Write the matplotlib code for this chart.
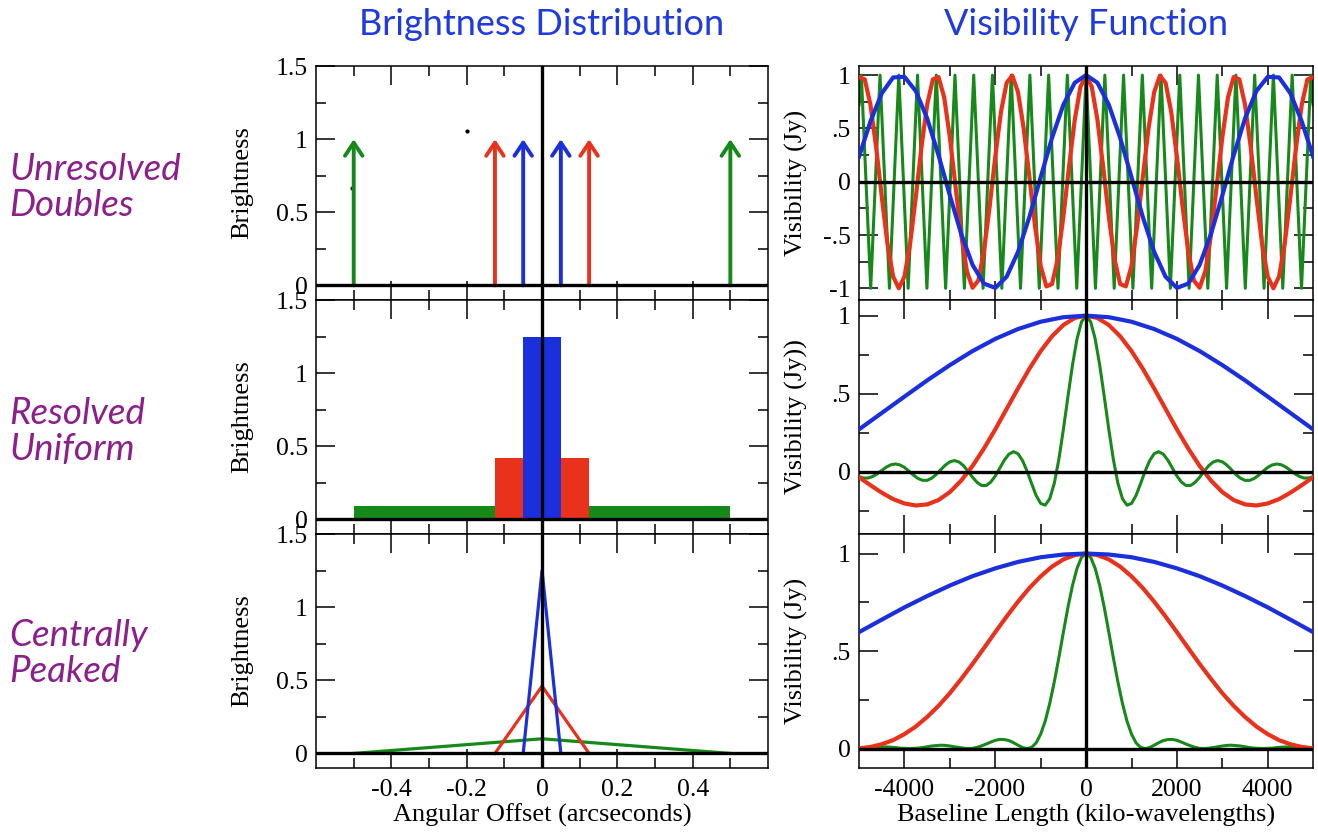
import numpy as np
import matplotlib.pyplot as plt

plt.rcParams['font.family'] = ['Liberation Serif', 'DejaVu Serif']
plt.rcParams['axes.unicode_minus'] = False

BLUE = '#1c2fdc'
RED = '#e8321c'
GREEN = '#17891b'
TITLE_BLUE = '#1f3be0'
PURPLE = '#8c1f8c'

# ---- brightness distributions (arcsec) ----
# point doubles: component offsets for blue, red, green
double_offsets = [0.05, 0.125, 0.5]
double_height = 1.0
stray_x = [-0.2, -0.505]
stray_y = [1.055, 0.665]

# uniform boxes: full width and height
box_widths = [1.0, 0.25, 0.1]        # green, red, blue
box_heights = [0.09, 0.42, 1.25]

# centrally peaked triangles: half width and peak
tri_halfwidths = [0.5, 0.125, 0.05]  # green, red, blue
tri_peaks = [0.10, 0.46, 1.25]

# ---- visibility functions (u >= 0 half, kilo-wavelengths) ----
u_half = [0, 500, 1000, 1500, 2000, 2500, 3000, 3500, 4000, 4500, 5000]
u_quarter = [0, 250, 500, 750, 1000, 1250, 1500, 1750, 2000, 2250, 2500,
             2750, 3000, 3250, 3500, 3750, 4000, 4250, 4500, 4750, 5000]
u_eighth = [0, 125, 250, 375, 500, 625, 750, 875, 1000, 1125, 1250, 1375,
            1500, 1625, 1750, 1875, 2000, 2125, 2250, 2375, 2500, 2625, 2750,
            2875, 3000, 3125, 3250, 3375, 3500, 3625, 3750, 3875, 4000, 4125,
            4250, 4375, 4500, 4625, 4750, 4875, 5000]
u_tenth = [0, 100, 200, 300, 400, 500, 600, 700, 800, 900, 1000, 1100, 1200,
           1300, 1400, 1500, 1600, 1700, 1800, 1900, 2000, 2100, 2200, 2300,
           2400, 2500, 2600, 2700, 2800, 2900, 3000, 3100, 3200, 3300, 3400,
           3500, 3600, 3700, 3800, 3900, 4000, 4100, 4200, 4300, 4400, 4500,
           4600, 4700, 4800, 4900, 5000]
u_green_double = [0, 206, 413, 619, 825, 1031, 1238, 1444, 1650, 1856, 2063,
                  2269, 2475, 2681, 2888, 3094, 3300, 3506, 3713, 3919, 4125,
                  4331, 4538, 4744, 4950, 5000]

vis_blue_double = [1.0, 0.928, 0.722, 0.412, 0.043, -0.332, -0.659, -0.891,
                   -0.996, -0.956, -0.781, -0.490, -0.130, 0.248, 0.593, 0.850,
                   0.984, 0.978, 0.829, 0.565, 0.236]
vis_red_double = [1.0, 0.889, 0.580, 0.142, -0.327, -0.724, -0.960, -0.982,
                  -0.790, -0.415, 0.047, 0.500, 0.841, 0.995, 0.928, 0.654,
                  0.236, -0.235, -0.654, -0.928, -0.995, -0.840, -0.500,
                  -0.047, 0.415, 0.790, 0.982, 0.960, 0.724, 0.327, -0.142,
                  -0.580, -0.889, -1.0, -0.889, -0.580, -0.142, 0.327, 0.724,
                  0.960, 0.982]
vis_green_double = [1, -1, 1, -1, 1, -1, 1, -1, 1, -1, 1, -1, 1, -1, 1, -1,
                    1, -1, 1, -1, 1, -1, 1, -1, 1, 0.72]

vis_blue_box = [1.0, 0.990, 0.961, 0.914, 0.851, 0.773, 0.683, 0.585, 0.481,
                0.376, 0.271]
vis_red_box = [1.0, 0.985, 0.940, 0.868, 0.773, 0.659, 0.533, 0.402, 0.271,
               0.148, 0.037, -0.057, -0.131, -0.182, -0.210, -0.217, -0.204,
               -0.176, -0.135, -0.087, -0.036]
vis_green_box = [1.0, 0.961, 0.851, 0.683, 0.481, 0.271, 0.079, -0.074, -0.173,
                 -0.215, -0.204, -0.153, -0.077, 0.003, 0.071, 0.115, 0.128,
                 0.112, 0.074, 0.023, -0.028, -0.067, -0.089, -0.089, -0.069,
                 -0.036, 0.003, 0.038, 0.062, 0.071, 0.063, 0.042, 0.013,
                 -0.018, -0.042, -0.056, -0.056, -0.044, -0.023, 0.003, 0.027,
                 0.043, 0.049, 0.044, 0.029, 0.008, -0.014, -0.031, -0.041,
                 -0.041, -0.032]

vis_blue_tri = [1.0, 0.995, 0.981, 0.957, 0.924, 0.884, 0.836, 0.782, 0.724,
                0.661, 0.597]
vis_red_tri = [1.0, 0.992, 0.970, 0.933, 0.883, 0.823, 0.753, 0.677, 0.597,
               0.515, 0.434, 0.357, 0.284, 0.219, 0.162, 0.113, 0.074, 0.043,
               0.022, 0.008, 0.001]
vis_green_tri = [1.0, 0.981, 0.924, 0.836, 0.724, 0.597, 0.466, 0.342, 0.232,
                 0.141, 0.074, 0.029, 0.006, 0.0, 0.005, 0.017, 0.030, 0.041,
                 0.046, 0.047, 0.042, 0.033, 0.023, 0.014, 0.006, 0.001, 0.0,
                 0.002, 0.005, 0.009, 0.013, 0.016, 0.017, 0.015, 0.013, 0.009,
                 0.005, 0.002, 0.001, 0.0, 0.001, 0.002, 0.005, 0.007, 0.008,
                 0.008, 0.008, 0.007, 0.005, 0.003, 0.001]

row_names = ['Unresolved\nDoubles', 'Resolved\nUniform', 'Centrally\nPeaked']


def mirror(u, v):
    u = np.asarray(u, dtype=float)
    v = np.asarray(v, dtype=float)
    return np.concatenate([-u[::-1], u[1:]]), np.concatenate([v[::-1], v[1:]])


def style(ax, xmaj, xlabels, xmin, ymaj, ylabels, ymin, show_x):
    ax.set_xticks(xmaj, xlabels)
    ax.set_xticks(xmin, minor=True)
    ax.set_yticks(ymaj, ylabels)
    ax.set_yticks(ymin, minor=True)
    ax.tick_params(which='both', direction='in', top=True, right=True,
                   width=1.1, labelsize=18.5)
    ax.tick_params(axis='x', pad=8, labelbottom=show_x)
    ax.tick_params(axis='y', pad=6)
    ax.tick_params(which='major', length=14)
    ax.tick_params(which='minor', length=7)
    for s in ax.spines.values():
        s.set_linewidth(1.1)
    ax.axhline(0, color='black', lw=2.4, zorder=6)
    ax.axvline(0, color='black', lw=2.4, zorder=6)


fig = plt.figure(figsize=(13.18, 8.36), dpi=100)
row_bottoms = [0.6411, 0.3612, 0.0813]
row_h = 0.2799
left_axes = [fig.add_axes([0.2398, b, 0.3429, row_h]) for b in row_bottoms]
right_axes = [fig.add_axes([0.6518, b, 0.3445, row_h]) for b in row_bottoms]

lx_maj = [-0.4, -0.2, 0, 0.2, 0.4]
lx_lab = ['-0.4', '-0.2', '0', '0.2', '0.4']
lx_min = [-0.5, -0.3, -0.1, 0.1, 0.3, 0.5]
ly_maj = [0, 0.5, 1, 1.5]
ly_lab = ['0', '0.5', '1', '1.5']
ly_min = [0.25, 0.75, 1.25]
rx_maj = [-4000, -2000, 0, 2000, 4000]
rx_lab = ['-4000', '-2000', '0', '2000', '4000']
rx_min = [-3000, -1000, 1000, 3000]

# --- left column ---
ax = left_axes[0]
colors = [BLUE, RED, GREEN]
for off, c in zip(double_offsets, colors):
    for x in (-off, off):
        ax.annotate('', xy=(x, double_height), xytext=(x, 0),
                    arrowprops=dict(arrowstyle='->,head_length=0.45,head_width=0.3',
                                    color=c, lw=2.8, mutation_scale=21,
                                    shrinkA=0, shrinkB=0), zorder=4)
ax.plot(stray_x, stray_y, 'o', color='black', ms=2)

ax = left_axes[1]
for w, h, c in zip(box_widths, box_heights, [GREEN, RED, BLUE]):
    ax.bar(0, h, width=w, color=c, zorder=3)

ax = left_axes[2]
for hw, pk, c in zip(tri_halfwidths, tri_peaks, [GREEN, RED, BLUE]):
    ax.plot([-hw, 0, hw], [0, pk, 0], color=c, lw=2.3, zorder=3)

for i, ax in enumerate(left_axes):
    ax.set_xlim(-0.6, 0.6)
    ax.set_ylim(-0.1, 1.5)
    style(ax, lx_maj, lx_lab, lx_min, ly_maj, ly_lab, ly_min, i == 2)
    ax.set_ylabel('Brightness', fontsize=19)
    ax.yaxis.set_label_coords(-0.140, 0.5)
left_axes[2].set_xlabel('Angular Offset (arcseconds)', fontsize=19, labelpad=2)

# --- right column ---
ax = right_axes[0]
ax.plot(*mirror(u_green_double, vis_green_double), color=GREEN, lw=2.2, zorder=2)
ax.plot(*mirror(u_eighth, vis_red_double), color=RED, lw=3.0, zorder=3)
ax.plot(*mirror(u_quarter, vis_blue_double), color=BLUE, lw=3.0, zorder=4)
ax.set_ylim(-1.11, 1.085)
style(ax, rx_maj, rx_lab, rx_min, [-1, -0.5, 0, 0.5, 1],
      ['-1', '-.5', '0', '.5', '1'], [-0.75, -0.25, 0.25, 0.75], False)
ax.set_ylabel('Visibility (Jy)', fontsize=19)

ax = right_axes[1]
ax.plot(*mirror(u_tenth, vis_green_box), color=GREEN, lw=2.2, zorder=2)
ax.plot(*mirror(u_quarter, vis_red_box), color=RED, lw=3.0, zorder=3)
ax.plot(*mirror(u_half, vis_blue_box), color=BLUE, lw=3.0, zorder=4)
ax.set_ylim(-0.40, 1.10)
style(ax, rx_maj, rx_lab, rx_min, [0, 0.5, 1], ['0', '.5', '1'],
      [-0.25, 0.25, 0.75], False)
ax.set_ylabel('Visibility (Jy))', fontsize=19)

ax = right_axes[2]
ax.plot(*mirror(u_tenth, vis_green_tri), color=GREEN, lw=2.2, zorder=2)
ax.plot(*mirror(u_quarter, vis_red_tri), color=RED, lw=3.0, zorder=3)
ax.plot(*mirror(u_half, vis_blue_tri), color=BLUE, lw=3.0, zorder=4)
ax.set_ylim(-0.10, 1.10)
style(ax, rx_maj, rx_lab, rx_min, [0, 0.5, 1], ['0', '.5', '1'],
      [0.25, 0.75], True)
ax.set_ylabel('Visibility (Jy)', fontsize=19)
ax.set_xlabel('Baseline Length (kilo-wavelengths)', fontsize=19, labelpad=2)

for ax in right_axes:
    ax.set_xlim(-5000, 5000)
    ax.yaxis.set_label_coords(-0.112, 0.5)

# --- titles and row labels ---
fig.text(0.4112, 0.971, 'Brightness Distribution', ha='center', va='center',
         fontsize=26, color=TITLE_BLUE, family=['Lato', 'DejaVu Sans'])
fig.text(0.824, 0.971, 'Visibility Function', ha='center', va='center',
         fontsize=26, color=TITLE_BLUE, family=['Lato', 'DejaVu Sans'])
for name, y in zip(row_names, [0.776, 0.484, 0.218]):
    fig.text(0.007, y, name, ha='left', va='center', fontsize=26.5,
             style='italic', color=PURPLE, family=['Lato', 'DejaVu Sans'],
             linespacing=1.12)

fig.savefig('out.png', dpi=100, facecolor='white')
